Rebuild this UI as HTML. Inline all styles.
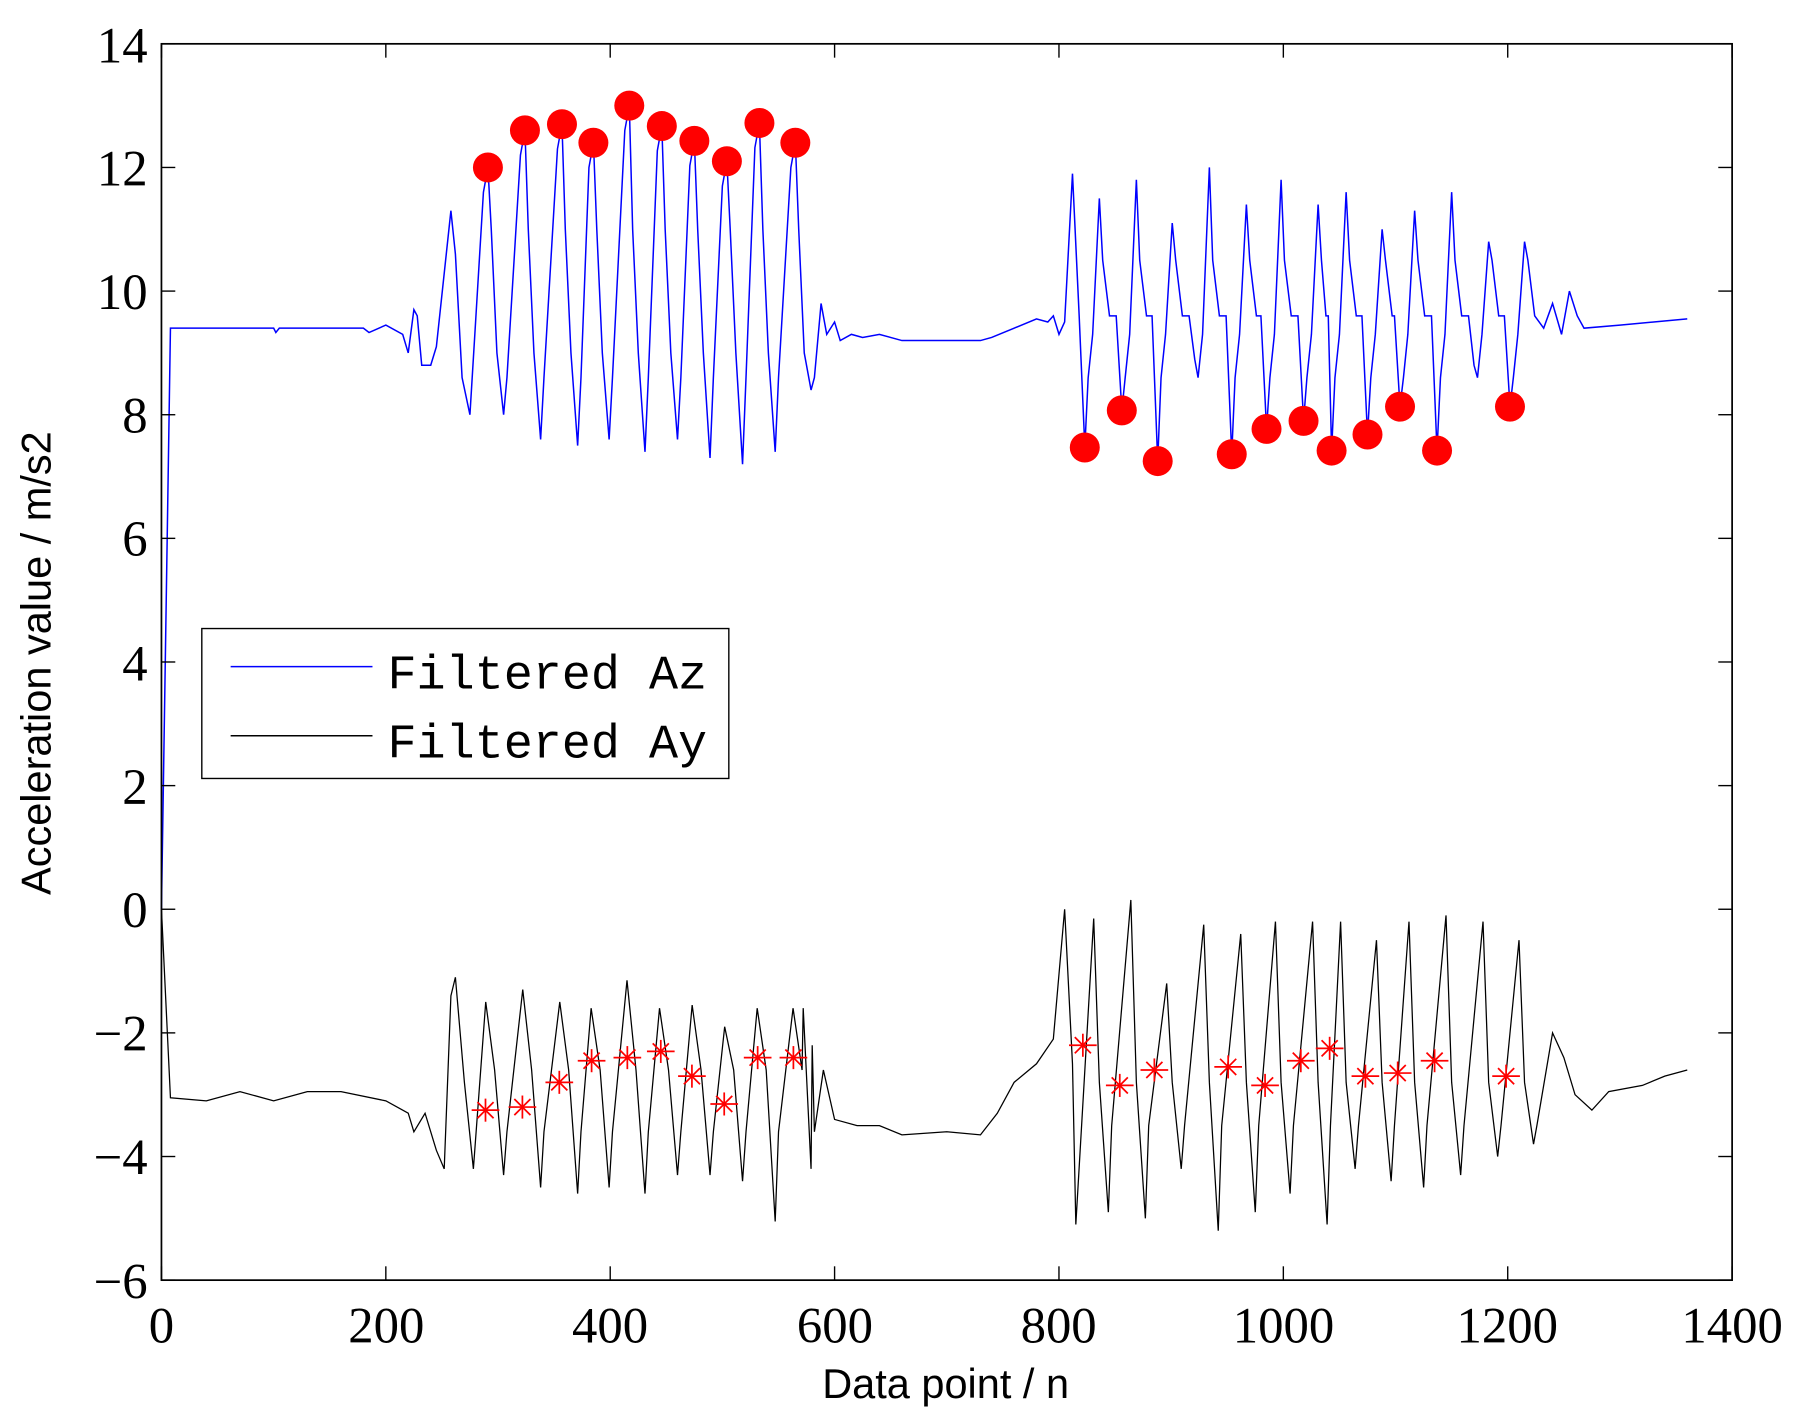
<!DOCTYPE html>
<html><head><meta charset="utf-8"><style>html,body{margin:0;padding:0;background:#fff}svg{display:block}</style></head>
<body>
<svg id="s" width="1799" height="1422" viewBox="0 0 1560 1233" preserveAspectRatio="none" xmlns="http://www.w3.org/2000/svg">
<rect width="1560" height="1233" fill="#fff"/>
<g id="plot"></g>
<rect x="140" y="38" width="1362" height="1072" fill="none" stroke="#000" stroke-width="1.5"/>
<g id="ticks" stroke="#000" stroke-width="1.2"></g>
<g font-family="Liberation Serif, serif" font-size="44" fill="#000">
<g text-anchor="end">
<text x="128" y="54">14</text><text x="128" y="161">12</text><text x="128" y="268">10</text>
<text x="128" y="375">8</text><text x="128" y="482">6</text><text x="128" y="590">4</text>
<text x="128" y="697">2</text><text x="128" y="804">0</text><text x="128" y="911">−2</text>
<text x="128" y="1018">−4</text><text x="128" y="1126">−6</text>
</g>
<g text-anchor="middle">
<text x="140" y="1164">0</text><text x="335" y="1164">200</text><text x="529" y="1164">400</text>
<text x="724" y="1164">600</text><text x="918" y="1164">800</text><text x="1113" y="1164">1000</text>
<text x="1307" y="1164">1200</text><text x="1502" y="1164">1400</text>
</g>
</g>
<text x="820" y="1212" font-family="Liberation Sans, sans-serif" font-size="36" text-anchor="middle">Data point / n</text>
<text transform="translate(44,575) rotate(-90)" font-family="Liberation Sans, sans-serif" font-size="36" text-anchor="middle">Acceleration value / m/s2</text>
<rect x="175" y="545" width="457" height="130" fill="#fff" stroke="#000" stroke-width="1.2"/>
<line x1="200" y1="578" x2="323" y2="578" stroke="#00f" stroke-width="1.3"/>
<line x1="200" y1="638" x2="323" y2="638" stroke="#000" stroke-width="1.3"/>
<g font-family="Liberation Mono, monospace" font-size="42" fill="#000">
<text x="336" y="597">Filtered Az</text>
<text x="336" y="657">Filtered Ay</text>
</g>
</svg>
<script>
const NS="http://www.w3.org/2000/svg";
const X=n=>140+n*0.97286, Y=v=>788.4-v*53.6;
function el(t,a,p){const e=document.createElementNS(NS,t);for(const k in a)e.setAttribute(k,a[k]);p.appendChild(e);return e;}
const T=document.getElementById('ticks');
for(let i=0;i<=10;i++){const y=38+i*107.2;el('line',{x1:140,y1:y,x2:152,y2:y},T);el('line',{x1:1502,y1:y,x2:1490,y2:y},T);}
for(let i=0;i<=7;i++){const x=140+i*194.57;el('line',{x1:x,y1:1110,x2:x,y2:1098},T);el('line',{x1:x,y1:38,x2:x,y2:50},T);}
function path(kp){let d='';kp.forEach((p,i)=>{d+=(i?'L':'M')+X(p[0]).toFixed(1)+' '+Y(p[1]).toFixed(2);});return d;}
const upN=[291,324,357,385,417,446,475,504,533,565],upV=[12.0,12.6,12.7,12.4,13.0,12.67,12.43,12.1,12.72,12.4];
const loN=[823,856,888,954,985,1018,1043,1075,1104,1137,1202],loV=[7.47,8.07,7.25,7.36,7.77,7.9,7.42,7.68,8.13,7.42,8.13];
// region-2 cycles (incl. unmarked)
const cyN=[823,856,888,921,954,985,1018,1043,1075,1104,1137,1170,1202];
const cyT=[7.47,8.07,7.25,8.9,7.36,7.77,7.9,7.42,7.68,8.13,7.42,8.8,8.13];
const pk2=[11.5,11.8,11.1,12.0,11.4,11.8,11.4,11.6,11.0,11.3,11.6,10.8,10.8];
let az=[[0,0],[8,9.4],[100,9.4],[102,9.33],[105,9.4],[180,9.4],[185,9.33],[200,9.45],[215,9.3],[220,9.0],[225,9.7],[228,9.6],[232,8.8],[240,8.8],[245,9.1],[258,11.3],[262,10.6],[268,8.6],[275,8.0],[280,9.5]];
const tr1=[8.0,7.6,7.5,7.6,7.4,7.6,7.3,7.2,7.4,8.4];
upN.forEach((n,i)=>{az.push([n-4,upV[i]-0.4],[n,upV[i]],[n+3,11.0],[n+8,9.0],[n+14,tr1[i]],[n+17,8.6]);});
az.push([582,8.6],[588,9.8],[593,9.3],[600,9.5],[605,9.2],[615,9.3],[625,9.25],[640,9.3],[660,9.2],[730,9.2],[740,9.25],[760,9.4],[780,9.55],[790,9.5],[795,9.6],[800,9.3],[805,9.5],[812,11.9]);
cyN.forEach((n,i)=>{az.push([n-5,9.6],[n,cyT[i]],[n+3,8.6],[n+7,9.3],[n+13,pk2[i]],[n+16,10.5],[n+22,9.6]);});
az.push([1232,9.4],[1240,9.8],[1248,9.3],[1255,10.0],[1262,9.6],[1268,9.4],[1300,9.45],[1330,9.5],[1360,9.55]);
az.sort((a,b)=>a[0]-b[0]);
const P=document.getElementById('plot');
el('path',{d:path(az),fill:'none',stroke:'#00f','stroke-width':1.3},P);
let ay=[[0,0],[8,-3.05],[40,-3.1],[70,-2.95],[100,-3.1],[130,-2.95],[160,-2.95],[200,-3.1],[220,-3.3],[225,-3.6],[235,-3.3],[245,-3.9],[252,-4.2],[258,-1.4],[262,-1.1],[270,-2.8],[278,-4.2]];
const p1=[-1.5,-1.3,-1.5,-1.6,-1.15,-1.6,-1.55,-1.9,-1.6,-1.6],t1=[-4.3,-4.5,-4.6,-4.5,-4.6,-4.3,-4.3,-4.4,-5.05,-4.2];
upN.forEach((n,i)=>{ay.push([n-2,p1[i]],[n+6,-2.6],[n+14,t1[i]],[n+17,-3.6]);});
ay.push([572,-1.6],[580,-2.2],[590,-2.6],[600,-3.4],[620,-3.5],[640,-3.5],[660,-3.65],[700,-3.6],[730,-3.65],[745,-3.3],[760,-2.8],[780,-2.5],[795,-2.1],[805,0.0],[812,-2.5],[815,-5.1]);
const p2=[-0.15,0.15,-1.2,-0.25,-0.4,-0.2,-0.2,-0.2,-0.5,-0.2,-0.1,-0.2,-0.5],t2=[-4.9,-5.0,-4.2,-5.2,-4.9,-4.6,-5.1,-4.2,-4.4,-4.5,-4.3,-4.0,-3.8];
cyN.forEach((n,i)=>{ay.push([n+8,p2[i]],[n+13,-2.8],[n+21,t2[i]],[n+24,-3.5]);});
ay.push([1240,-2.0],[1250,-2.4],[1260,-3.0],[1275,-3.25],[1290,-2.95],[1320,-2.85],[1340,-2.7],[1360,-2.6]);
ay.sort((a,b)=>a[0]-b[0]);
el('path',{d:path(ay),fill:'none',stroke:'#000','stroke-width':1.1},P);
upN.forEach((n,i)=>el('circle',{cx:X(n),cy:Y(upV[i]),r:13,fill:'#f00'},P));
loN.forEach((n,i)=>el('circle',{cx:X(n),cy:Y(loV[i]),r:13,fill:'#f00'},P));
const sx=[421,453,485,513,544,573,600,628,657,688,939,971,1001,1065,1097,1128,1153,1184,1212,1244,1306];
const sv=[-3.25,-3.2,-2.8,-2.45,-2.4,-2.3,-2.7,-3.15,-2.4,-2.4,-2.2,-2.85,-2.6,-2.55,-2.85,-2.45,-2.25,-2.7,-2.65,-2.45,-2.7];
sx.forEach((x,i)=>{const y=Y(sv[i]);const r=10,g=document.createElementNS(NS,'g');g.setAttribute('stroke','#f00');g.setAttribute('stroke-width','1.5');
el('line',{x1:x-r-2,y1:y,x2:x+r+2,y2:y},g);el('line',{x1:x,y1:y-r,x2:x,y2:y+r},g);
el('line',{x1:x-7,y1:y-7,x2:x+7,y2:y+7},g);el('line',{x1:x-7,y1:y+7,x2:x+7,y2:y-7},g);P.appendChild(g);});
</script>
</body></html>
